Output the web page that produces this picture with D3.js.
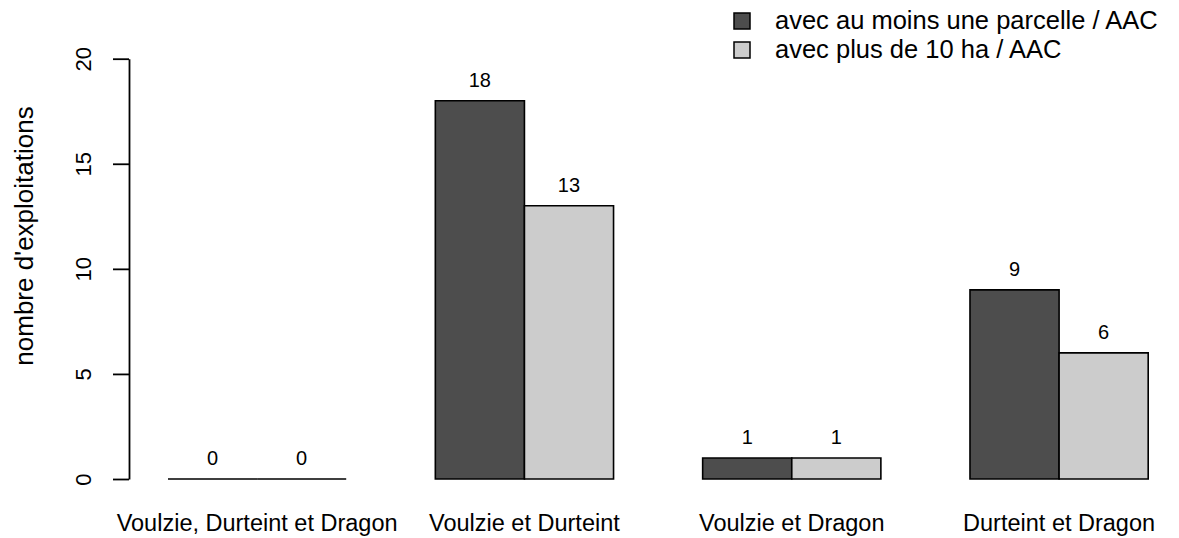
<!DOCTYPE html>
<html>
<head>
<meta charset="utf-8">
<script src="https://cdn.jsdelivr.net/npm/d3@7"></script>
<style>
  html, body { margin: 0; padding: 0; background: #ffffff; }
  svg { display: block; font-family: "Liberation Sans", Arial, Helvetica, sans-serif; }
</style>
</head>
<body>
<svg id="chart" width="1179" height="538"></svg>
<script>
const categories = ["Voulzie, Durteint et Dragon", "Voulzie et Durteint", "Voulzie et Dragon", "Durteint et Dragon"];
const seriesNames = ["avec au moins une parcelle / AAC", "avec plus de 10 ha / AAC"];
const seriesAuMoinsUne = [0, 18, 1, 9];
const seriesPlus10ha = [0, 13, 1, 6];
const seriesColors = ["#4D4D4D", "#CCCCCC"];
const yTicks = [0, 5, 10, 15, 20];
const yLabel = "nombre d'exploitations";

const seriesValues = [seriesAuMoinsUne, seriesPlus10ha];
const svg = d3.select("#chart");

const y = d3.scaleLinear().domain([0, 20]).range([479, 58.7]);
const xGroup = d3.scaleBand().domain(categories).range([168, 1148.2]).paddingInner(1/3).paddingOuter(0);
const xSeries = d3.scaleBand().domain(d3.range(seriesNames.length)).range([0, xGroup.bandwidth()]).padding(0);

// Bars (paths so that zero-height bars still show their outline)
const barData = [];
categories.forEach((c, i) => {
  seriesValues.forEach((vals, s) => barData.push({cat: c, s: s, v: vals[i]}));
});

svg.append("g").selectAll("path")
  .data(barData)
  .join("path")
  .attr("d", d => {
    const x0 = xGroup(d.cat) + xSeries(d.s);
    const x1 = x0 + xSeries.bandwidth();
    return `M${x0},${y(0)}V${y(d.v)}H${x1}V${y(0)}Z`;
  })
  .attr("fill", d => seriesColors[d.s])
  .attr("stroke", "#000")
  .attr("stroke-width", 1.6);

// Value labels
svg.append("g").selectAll("text")
  .data(barData)
  .join("text")
  .attr("x", d => xGroup(d.cat) + xSeries(d.s) + xSeries.bandwidth() / 2)
  .attr("y", d => y(d.v) - 14)
  .attr("text-anchor", "middle")
  .attr("font-size", 20)
  .attr("fill", "#000")
  .text(d => d.v);

// Y axis
const axisX = 129;
const yAxis = d3.axisLeft(y).tickValues(yTicks).tickSize(16).tickSizeOuter(0).tickFormat(d3.format("d"));
const gAxis = svg.append("g").attr("transform", `translate(${axisX},0)`).call(yAxis);
gAxis.select(".domain").attr("stroke", "#000").attr("stroke-width", 1.8);
gAxis.selectAll(".tick line").attr("stroke", "#000").attr("stroke-width", 1.8);
gAxis.selectAll(".tick text")
  .attr("x", null).attr("dy", null)
  .attr("text-anchor", "middle")
  .attr("transform", "translate(-38,0) rotate(-90)")
  .attr("font-size", 22)
  .attr("font-family", "'Liberation Sans', Arial, sans-serif")
  .attr("fill", "#000");

// Y label
svg.append("text")
  .attr("transform", "translate(33,236) rotate(-90)")
  .attr("text-anchor", "middle")
  .attr("font-size", 26)
  .attr("fill", "#000")
  .text(yLabel);

// Category labels
svg.append("g").selectAll("text")
  .data(categories)
  .join("text")
  .attr("x", d => xGroup(d) + xGroup.bandwidth() / 2)
  .attr("y", 531)
  .attr("text-anchor", "middle")
  .attr("font-size", 23.5)
  .attr("fill", "#000")
  .text(d => d);

// Legend
const legend = svg.append("g");
seriesNames.forEach((name, i) => {
  const cy = 21 + i * 29;
  legend.append("rect")
    .attr("x", 734).attr("y", cy - 8)
    .attr("width", 16).attr("height", 16)
    .attr("fill", seriesColors[i])
    .attr("stroke", "#000").attr("stroke-width", 1.5);
  legend.append("text")
    .attr("x", 775).attr("y", cy + 8)
    .attr("font-size", 25.5)
    .attr("fill", "#000")
    .text(name);
});
</script>
</body>
</html>
